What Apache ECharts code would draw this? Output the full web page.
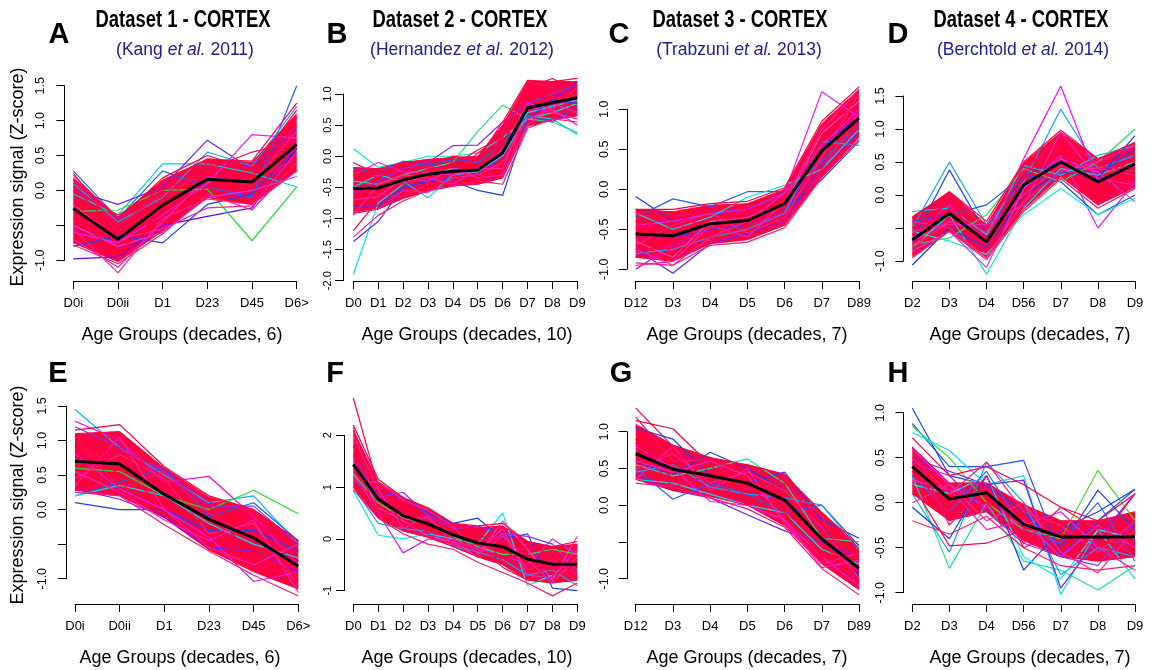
<!DOCTYPE html>
<html>
<head>
<meta charset="utf-8">
<script src="https://cdn.jsdelivr.net/npm/echarts@6/dist/echarts.min.js"></script>
<style>
  html, body { margin: 0; padding: 0; background: #fff; }
  #main { width: 1154px; height: 670px; }
</style>
</head>
<body>
<div id="main"></div>
<script type="text/javascript">
// age groups
var cats6 = ['D0i', 'D0ii', 'D1', 'D23', 'D45', 'D6>'];
var cats10 = ['D0', 'D1', 'D2', 'D3', 'D4', 'D5', 'D6', 'D7', 'D8', 'D9'];
var cats7a = ['D12', 'D3', 'D4', 'D5', 'D6', 'D7', 'D89'];
var cats7b = ['D2', 'D3', 'D4', 'D56', 'D7', 'D8', 'D9'];

// A - dataset 1, up
var aMean = [-0.26, -0.70, -0.21, 0.16, 0.12, 0.66];
var aLo = [-0.75, -1.02, -0.58, -0.10, -0.20, 0.28];
var aHi = [0.18, -0.38, 0.15, 0.45, 0.40, 1.10];
var aRed = [
  [0.22, -0.42, 0.18, 0.50, 0.30, 1.15],
  [-0.78, -1.05, -0.62, -0.05, -0.28, 0.40],
  [0.05, -0.60, 0.10, 0.45, 0.42, 1.25],
  [-0.55, -1.18, -0.40, -0.12, -0.20, 0.28],
  [-0.40, -0.88, -0.30, 0.05, 0.20, 1.05],
  [0.15, -0.50, -0.05, 0.25, 0.15, 0.45],
  [-0.20, -0.70, -0.55, -0.25, -0.22, 0.55],
  [0.00, -0.35, 0.00, 0.30, 0.55, 0.70],
  [-0.70, -1.10, -0.45, 0.20, 0.10, 0.85],
  [0.25, -0.60, -0.20, 0.40, 0.05, 0.95]
];
var aOther = [
  [-0.98, -0.95, -0.50, -0.37, -0.25, 0.60],
  [0.28, -0.40, 0.28, 0.05, -0.10, 1.50],
  [-0.05, -0.35, 0.38, 0.38, 0.25, 0.05],
  [-0.30, -0.28, 0.00, 0.02, -0.72, 0.05],
  [0.00, -0.20, 0.05, 0.72, 0.30, 0.90],
  [-0.80, -0.65, -0.75, -0.20, -0.05, 0.60],
  [-0.60, -0.75, -0.35, 0.10, 0.80, 0.75],
  [-0.50, -0.80, -0.60, -0.10, 0.00, 0.20],
  [0.10, -0.45, -0.10, 0.55, 0.35, 1.20]
];

// B - dataset 2, up
var bMean = [-0.52, -0.51, -0.38, -0.29, -0.24, -0.22, 0.06, 0.78, 0.86, 0.94];
var bLo = [-0.92, -0.85, -0.68, -0.56, -0.48, -0.45, -0.35, 0.48, 0.58, 0.65];
var bHi = [-0.18, -0.20, -0.10, -0.05, -0.02, 0.00, 0.50, 1.20, 1.20, 1.20];
var bRed = [
  [-0.18, -0.35, -0.10, -0.12, 0.00, -0.05, 0.55, 1.22, 1.20, 1.25],
  [-1.30, -0.95, -0.72, -0.55, -0.48, -0.40, -0.45, 0.45, 0.60, 0.55],
  [-1.20, -0.70, -0.40, -0.20, -0.15, 0.10, 0.30, 1.10, 1.25, 1.05],
  [-0.90, -0.85, -0.55, -0.58, -0.35, -0.30, -0.10, 0.60, 0.75, 1.10],
  [-0.30, -0.20, -0.45, -0.30, -0.10, -0.15, 0.20, 0.95, 0.95, 0.75],
  [-0.50, -0.60, -0.65, -0.45, -0.40, -0.45, 0.40, 1.20, 1.10, 0.95],
  [-0.95, -0.45, -0.30, -0.35, -0.45, -0.20, -0.20, 0.80, 0.70, 0.60],
  [-0.10, -0.30, -0.25, -0.15, -0.30, 0.05, 0.35, 1.00, 1.15, 1.15],
  [-0.70, -0.65, -0.35, -0.40, -0.20, -0.35, -0.30, 0.50, 0.85, 0.70]
];
var bOther = [
  [-1.90, -0.75, -0.45, -0.30, -0.20, -0.25, 0.10, 0.70, 0.80, 0.90],
  [-1.37, -1.05, -0.50, -0.40, -0.35, -0.30, 0.00, 0.75, 0.90, 1.20],
  [0.12, -0.18, -0.10, 0.00, 0.00, 0.05, 0.30, 0.60, 0.70, 0.85],
  [-0.40, -0.45, -0.30, -0.20, -0.10, 0.40, 0.82, 0.60, 0.55, 0.38],
  [-0.60, -0.40, -0.20, -0.10, 0.17, 0.18, 0.55, 0.85, 1.00, 1.15],
  [-0.80, -0.80, -0.50, -0.40, -0.40, -0.55, -0.63, 0.60, 0.90, 0.85],
  [-0.50, -0.30, -0.40, -0.67, -0.30, -0.25, 0.00, 0.65, 0.60, 0.35],
  [-0.30, -0.10, -0.25, -0.25, -0.30, -0.20, 0.10, 0.85, 0.75, 0.50],
  [-0.20, -0.25, -0.08, -0.15, -0.05, -0.10, 0.20, 0.65, 0.55, 0.80]
];

// C - dataset 3, up
var cMean = [-0.56, -0.58, -0.43, -0.39, -0.18, 0.48, 0.89];
var cLo = [-0.85, -0.90, -0.68, -0.63, -0.45, 0.15, 0.65];
var cHi = [-0.25, -0.28, -0.20, -0.18, 0.00, 0.82, 1.25];
var cRed = [
  [-0.25, -0.25, -0.18, -0.15, 0.02, 0.85, 1.28],
  [-0.92, -0.95, -0.70, -0.66, -0.48, 0.15, 0.62],
  [-0.40, -0.80, -0.55, -0.30, -0.10, 0.80, 1.05],
  [-0.70, -0.45, -0.30, -0.55, -0.35, 0.40, 1.20],
  [-0.85, -0.60, -0.60, -0.45, -0.25, 0.60, 0.75],
  [-0.30, -0.40, -0.65, -0.20, -0.45, 0.25, 0.95],
  [-0.95, -0.90, -0.45, -0.60, -0.15, 0.75, 1.25],
  [-0.50, -0.30, -0.50, -0.25, -0.40, 0.20, 0.70],
  [-0.75, -0.95, -0.60, -0.40, -0.05, 0.55, 1.00]
];
var cOther = [
  [-0.09, -0.40, -0.30, -0.25, -0.05, 0.55, 0.90],
  [-0.35, -0.12, -0.22, -0.03, -0.03, 0.35, 0.80],
  [-0.45, -0.40, -0.30, -0.25, -0.05, 1.22, 0.90],
  [-1.00, -0.70, -0.50, -0.45, -0.30, 0.50, 0.95],
  [-0.75, -1.05, -0.68, -0.55, -0.40, 0.30, 0.70],
  [-0.60, -0.60, -0.50, -0.45, -0.25, 0.12, 0.60],
  [-0.30, -0.50, -0.35, -0.10, 0.05, 0.25, 0.75],
  [-0.80, -0.75, -0.60, -0.50, -0.30, 0.60, 0.55],
  [-0.65, -0.85, -0.40, -0.35, -0.20, 0.70, 1.10]
];

// D - dataset 4, up
var dMean = [-0.68, -0.28, -0.71, 0.15, 0.50, 0.20, 0.47];
var dLo = [-0.93, -0.55, -0.95, -0.22, 0.28, -0.15, 0.12];
var dHi = [-0.33, 0.05, -0.45, 0.48, 0.95, 0.55, 0.80];
var dRed = [
  [-0.35, 0.05, -0.40, 0.50, 0.98, 0.55, 0.70],
  [-0.95, -0.55, -0.98, -0.25, 0.25, -0.20, 0.10],
  [-0.50, -0.10, -0.85, 0.30, 0.80, 0.10, 0.60],
  [-0.80, -0.40, -0.55, 0.00, 0.45, 0.40, 0.30],
  [-0.60, -0.20, -0.65, 0.25, 0.65, 0.00, 0.50],
  [-0.90, 0.00, -0.50, 0.35, 0.90, 0.45, 0.35],
  [-0.40, -0.50, -0.95, -0.10, 0.35, 0.50, 0.75],
  [-0.75, -0.05, -0.75, 0.45, 0.70, -0.15, 0.25],
  [-0.55, -0.45, -0.45, -0.15, 0.95, 0.25, 0.15]
];
var dOther = [
  [-0.50, 0.50, -0.45, 0.20, 1.30, 0.40, 0.60],
  [-0.70, 0.38, -0.60, 0.30, 0.50, 0.30, 0.70],
  [-0.60, -0.15, -0.70, 0.55, 1.65, 0.20, 0.45],
  [-0.70, -0.40, -0.60, 0.10, 0.60, -0.50, 0.20],
  [-0.80, -0.30, -1.20, -0.20, 0.40, 0.30, 0.50],
  [-0.40, -0.30, -0.15, 0.30, 0.20, -0.30, 0.00],
  [-0.25, -0.20, -0.60, 0.45, 0.30, 0.60, 0.75],
  [-1.06, -0.50, -0.80, 0.00, 0.35, 0.25, 0.90],
  [-0.75, -0.65, -0.30, 0.40, 0.20, 0.50, 1.00],
  [-0.55, -0.70, -0.90, -0.30, 0.10, -0.30, -0.05],
  [-0.85, -0.55, -1.10, 0.10, 0.55, 0.35, -0.10]
];

// E - dataset 1, down
var eMean = [0.70, 0.66, 0.22, -0.14, -0.41, -0.82];
var eLo = [0.28, 0.20, -0.12, -0.58, -0.90, -1.15];
var eHi = [1.10, 1.13, 0.60, 0.18, 0.00, -0.45];
var eRed = [
  [1.15, 1.23, 0.62, 0.20, 0.00, -0.45],
  [0.25, 0.20, -0.22, -0.60, -0.95, -1.25],
  [0.90, 1.10, 0.30, 0.05, -0.70, -0.60],
  [0.45, 0.80, 0.45, -0.35, -0.20, -1.10],
  [1.00, 0.50, 0.10, -0.25, -0.60, -0.95],
  [1.05, 0.30, 0.55, -0.05, -0.40, -1.00],
  [0.35, 1.05, 0.00, -0.55, -0.80, -0.50],
  [0.75, 0.85, 0.60, 0.15, -0.85, -0.75],
  [0.55, 0.25, -0.15, -0.45, -0.15, -1.20]
];
var eOther = [
  [1.45, 0.90, 0.50, 0.10, 0.20, -0.50],
  [0.10, 0.00, 0.00, -0.30, -0.30, -0.60],
  [0.20, 0.40, 0.60, -0.10, 0.10, -0.45],
  [1.28, 1.00, 0.40, 0.48, -0.10, -0.80],
  [0.60, 0.55, 0.20, 0.00, 0.28, -0.06],
  [0.80, 0.30, 0.00, -0.40, -1.04, -0.90],
  [0.30, 0.15, -0.10, -0.55, -0.60, -0.90],
  [0.20, 0.35, 0.20, -0.20, -0.50, -0.70],
  [1.20, 0.90, 0.55, 0.05, 0.05, -0.50]
];

// F - dataset 2, down
var fMean = [1.44, 0.77, 0.45, 0.29, 0.08, -0.08, -0.15, -0.39, -0.49, -0.49];
var fLo = [1.00, 0.40, 0.15, 0.03, -0.15, -0.35, -0.50, -0.80, -0.85, -0.80];
var fHi = [2.10, 1.10, 0.80, 0.58, 0.30, 0.22, 0.25, -0.05, -0.15, -0.10];
var fRed = [
  [2.20, 1.15, 0.80, 0.60, 0.30, 0.25, 0.30, -0.05, -0.15, -0.05],
  [0.95, 0.40, 0.10, -0.10, -0.20, -0.45, -0.65, -0.85, -1.10, -0.85],
  [2.72, 1.00, 0.50, 0.30, 0.10, 0.00, -0.20, -0.50, -0.60, -0.40],
  [1.20, 0.60, 0.40, 0.40, 0.00, -0.20, 0.10, -0.60, -0.40, -0.70],
  [1.80, 0.90, 0.30, 0.15, 0.20, -0.35, -0.35, -0.30, -0.70, -0.55],
  [2.15, 0.55, 0.20, 0.05, -0.10, -0.10, -0.55, -0.80, -0.50, -0.80],
  [1.10, 1.10, 0.75, 0.55, 0.25, -0.30, 0.05, -0.40, -0.85, -0.35],
  [1.65, 0.45, 0.60, 0.10, 0.25, 0.20, -0.45, -0.15, -0.30, -0.75],
  [2.00, 0.95, 0.20, 0.45, -0.10, -0.25, 0.20, -0.70, -0.75, -0.20]
];
var fOther = [
  [0.93, 0.07, 0.00, 0.10, 0.00, -0.10, 0.50, -0.90, -0.70, -0.55],
  [1.30, 0.50, -0.27, 0.00, -0.05, -0.20, -0.30, -0.50, 0.00, -0.30],
  [1.10, 0.90, 0.80, 0.50, 0.30, 0.40, 0.00, 0.10, -0.95, -1.00],
  [1.60, 0.80, 0.90, 0.45, 0.20, 0.25, 0.10, 0.05, -0.10, -0.65],
  [1.00, 0.30, 0.20, 0.15, -0.15, -0.25, -0.40, -0.70, -0.60, -0.90],
  [1.50, 0.60, 0.35, 0.05, -0.05, -0.35, 0.35, -0.20, -0.80, 0.05],
  [1.25, 0.70, 0.40, 0.30, 0.05, -0.15, -0.30, -0.30, -0.20, -0.30]
];

// G - dataset 3, down
var gMean = [0.70, 0.49, 0.40, 0.30, 0.07, -0.46, -0.86];
var gLo = [0.35, 0.20, 0.12, 0.00, -0.28, -0.80, -1.15];
var gHi = [1.10, 0.82, 0.65, 0.55, 0.42, -0.10, -0.58];
var gRed = [
  [1.15, 1.04, 0.55, 0.55, 0.42, -0.10, -0.55],
  [0.30, 0.25, 0.10, -0.05, -0.30, -0.86, -1.22],
  [1.32, 0.80, 0.45, 0.35, 0.00, -0.55, -0.90],
  [0.50, 0.70, 0.30, 0.45, 0.20, -0.30, -1.00],
  [0.90, 0.35, 0.55, 0.10, -0.10, -0.70, -0.70],
  [1.20, 0.60, 0.62, 0.20, 0.30, -0.15, -1.15],
  [0.35, 0.80, 0.20, 0.50, -0.25, -0.80, -0.65],
  [0.85, 0.25, 0.40, 0.00, 0.40, -0.40, -1.05],
  [0.60, 0.45, 0.60, 0.40, -0.20, -0.85, -0.75]
];
var gOther = [
  [1.05, 0.90, 0.40, 0.30, 0.45, -0.20, -0.45],
  [0.50, 0.08, 0.30, 0.15, -0.10, 0.00, -0.55],
  [0.60, 0.40, 0.72, 0.50, 0.20, -0.30, -0.95],
  [0.55, 0.40, 0.50, 0.63, 0.30, -0.45, -0.50],
  [0.40, 0.20, 0.10, -0.13, -0.35, -0.50, -0.70],
  [0.35, 0.30, 0.15, 0.00, -0.10, -0.60, -0.80],
  [0.80, 0.50, 0.05, 0.00, -0.20, -0.70, -1.10],
  [0.45, 0.55, 0.25, 0.15, 0.10, 0.00, -0.60]
];

// H - dataset 4, down
var hMean = [0.40, 0.04, 0.11, -0.24, -0.38, -0.38, -0.38];
var hLo = [0.10, -0.20, -0.10, -0.42, -0.60, -0.65, -0.60];
var hHi = [0.62, 0.22, 0.22, -0.02, -0.20, -0.20, -0.10];
var hRed = [
  [0.72, 0.30, 0.40, 0.20, -0.05, -0.20, 0.10],
  [-0.20, -0.35, -0.15, -0.50, -0.70, -0.75, -0.70],
  [0.20, -0.48, -0.45, -0.30, -0.50, -0.60, -0.40],
  [0.50, 0.10, 0.45, -0.10, -0.25, -0.55, -0.20],
  [0.35, -0.10, 0.00, -0.40, -0.35, -0.40, -0.55],
  [0.62, -0.25, 0.20, -0.45, -0.05, -0.30, -0.60],
  [0.00, 0.20, -0.20, 0.00, -0.55, -0.78, -0.30],
  [0.45, -0.20, 0.30, -0.50, -0.30, -0.45, 0.10],
  [0.25, 0.15, -0.30, -0.20, -0.60, -0.25, -0.50]
];
var hOther = [
  [1.05, 0.30, 0.20, -0.10, -0.50, 0.14, -0.30],
  [0.88, 0.40, 0.40, 0.47, -0.60, -0.20, 0.15],
  [0.85, 0.50, 0.00, -0.30, -0.40, 0.36, -0.20],
  [0.78, 0.58, 0.20, 0.30, -1.02, -0.30, -0.85],
  [0.30, -0.73, 0.00, -0.65, -0.75, -0.97, -0.70],
  [0.10, -0.55, 0.45, 0.00, -0.80, -0.50, -0.60],
  [0.50, 0.35, 0.20, 0.25, -0.95, -0.40, 0.10],
  [-0.05, -0.40, 0.30, -0.75, -0.30, -0.10, 0.15],
  [0.60, 0.20, -0.05, -0.25, -0.10, -0.50, -0.75],
  [0.20, 0.10, 0.30, -0.60, -0.85, -0.30, -0.40],
  [0.45, 0.30, -0.10, -0.45, -0.60, -0.70, -0.20],
  [0.30, -0.10, 0.35, -0.30, -0.45, 0.00, -0.65]
];

// line colours (rainbow-ish, per panel)
var aColors = ['#6a00ff', '#2060ff', '#00d0e0', '#20e030', '#7020ff', '#2040ff', '#e020ff', '#c040ff', '#10a0ff'];
var bColors = ['#00e0f0', '#6020ff', '#00f0d0', '#20e080', '#8030ff', '#2040ff', '#00c8ff', '#ff20e0', '#1060ff'];
var cColors = ['#1040ff', '#2060ff', '#e020ff', '#d000ff', '#7020ff', '#2040ff', '#00e0f0', '#10a0ff', '#ff40c0'];
var dColors = ['#10a0ff', '#2040ff', '#ff00ff', '#e020f0', '#00e0e0', '#2050ff', '#00c8f0', '#1040ff', '#20e060', '#10f0d0', '#c040ff'];
var eColors = ['#10b0ff', '#2040ff', '#1060ff', '#ff00e0', '#20e020', '#d020ff', '#7020ff', '#00e0f0', '#8030ff'];
var fColors = ['#00e8f0', '#d020ff', '#2040ff', '#8030ff', '#10a0ff', '#ff30e0', '#30e040'];
var gColors = ['#2040ff', '#2060ff', '#1040ff', '#20e090', '#7020ff', '#00e0f0', '#e020ff', '#10a0ff'];
var hColors = ['#2040ff', '#2050ff', '#40e020', '#00e0ff', '#20e090', '#10a0ff', '#7020ff', '#1040ff', '#e020ff', '#10f0f0', '#9030ff', '#3060ff'];
var redColors = ['#ff0040', '#ff1a70', '#ff0050', '#ff2080', '#ff0030', '#ff1060', '#ff20a0', '#ff0060', '#f020c0', '#ff1050'];

// panel geometry (px)
var panels = [
  {cats: cats6, mean: aMean, lo: aLo, hi: aHi, red: aRed, other: aOther, col: aColors, x0: 73.3, x1: 296.7, yT: 85.7, yB: 260.3, yAx: 64.4, xAx: 281, min: -1, max: 1.5, step: 0.5, dec: 1, hide: true, fs: 12.5, mg: 17},
  {cats: cats10, mean: bMean, lo: bLo, hi: bHi, red: bRed, other: bOther, col: bColors, x0: 353.3, x1: 577.3, yT: 94, yB: 280.7, yAx: 343, xAx: 281, min: -2, max: 1, step: 0.5, dec: 1, hide: false, fs: 11, mg: 10},
  {cats: cats7a, mean: cMean, lo: cLo, hi: cHi, red: cRed, other: cOther, col: cColors, x0: 635.7, x1: 859, yT: 109.3, yB: 269.3, yAx: 626.8, xAx: 281, min: -1, max: 1, step: 0.5, dec: 1, hide: false, fs: 12.5, mg: 16},
  {cats: cats7b, mean: dMean, lo: dLo, hi: dHi, red: dRed, other: dOther, col: dColors, x0: 912.3, x1: 1135, yT: 96, yB: 261, yAx: 903.4, xAx: 281, min: -1, max: 1.5, step: 0.5, dec: 1, hide: true, fs: 12.5, mg: 16},
  {cats: cats6, mean: eMean, lo: eLo, hi: eHi, red: eRed, other: eOther, col: eColors, x0: 75, x1: 298.3, yT: 406, yB: 578.7, yAx: 66, xAx: 604, min: -1, max: 1.5, step: 0.5, dec: 1, hide: true, fs: 12.5, mg: 17},
  {cats: cats10, mean: fMean, lo: fLo, hi: fHi, red: fRed, other: fOther, col: fColors, x0: 353.3, x1: 577.3, yT: 435.3, yB: 590.7, yAx: 344, xAx: 604, min: -1, max: 2, step: 1, dec: 0, hide: false, fs: 11, mg: 11},
  {cats: cats7a, mean: gMean, lo: gLo, hi: gHi, red: gRed, other: gOther, col: gColors, x0: 635.7, x1: 859, yT: 431.7, yB: 578.7, yAx: 626.8, xAx: 604, min: -1, max: 1, step: 0.5, dec: 1, hide: true, fs: 12.5, mg: 16},
  {cats: cats7b, mean: hMean, lo: hLo, hi: hHi, red: hRed, other: hOther, col: hColors, x0: 912.3, x1: 1135, yT: 412.7, yB: 592.7, yAx: 903.4, xAx: 604, min: -1, max: 1, step: 0.5, dec: 1, hide: false, fs: 12.5, mg: 16}
];

var FONT = '"Liberation Sans", Arial, sans-serif';
var grids = [], xAxes = [], yAxes = [], series = [];

panels.forEach(function (p, i) {
  grids.push({left: p.x0, top: p.yT, width: p.x1 - p.x0, height: p.yB - p.yT});
  xAxes.push({
    gridIndex: i, type: 'category', data: p.cats, boundaryGap: false,
    offset: p.xAx - p.yB,
    axisLine: {onZero: false, lineStyle: {color: '#000', width: 1}},
    axisTick: {interval: 0, length: 8, lineStyle: {color: '#000'}},
    axisLabel: {interval: 0, margin: 16, color: '#000', fontSize: 13, fontFamily: FONT},
    splitLine: {show: false}
  });
  yAxes.push({
    gridIndex: i, type: 'value', min: p.min, max: p.max, interval: p.step,
    offset: p.x0 - p.yAx,
    axisLine: {show: true, lineStyle: {color: '#000', width: 1}},
    axisTick: {show: true, length: 8, lineStyle: {color: '#000'}},
    axisLabel: {
      rotate: 90, margin: p.mg, color: '#000', fontSize: p.fs, fontFamily: FONT,
      formatter: function (v) {
        if (p.hide && Math.abs(v + 0.5) < 1e-9) return '';
        return v.toFixed(p.dec);
      }
    },
    splitLine: {show: false}
  });
  var base = {type: 'line', xAxisIndex: i, yAxisIndex: i, symbol: 'none', clip: false, silent: true};
  p.other.forEach(function (d, k) {
    series.push(Object.assign({}, base, {data: d, lineStyle: {width: 1.2, color: p.col[k]}}));
  });
  // dense core of red gene profiles, drawn as a band between lo and hi
  series.push(Object.assign({}, base, {data: p.lo, stack: 'band' + i, stackStrategy: 'all', lineStyle: {width: 1, color: '#ff0040'}}));
  series.push(Object.assign({}, base, {
    data: p.hi.map(function (v, k) { return v - p.lo[k]; }),
    stack: 'band' + i, stackStrategy: 'all',
    lineStyle: {width: 1, color: '#ff0040'},
    areaStyle: {color: '#ff0040', opacity: 1}
  }));
  p.red.forEach(function (d, k) {
    series.push(Object.assign({}, base, {data: d, lineStyle: {width: 1.2, color: redColors[k % redColors.length]}}));
  });
  series.push(Object.assign({}, base, {data: p.mean, lineStyle: {width: 3, color: '#000'}, z: 5}));
});

function txt(x, y, s, font, opt) {
  var o = {type: 'text', x: x, y: y, silent: true, style: {text: s, font: font, fill: '#000', textAlign: 'center', textVerticalAlign: 'middle'}};
  if (opt) Object.assign(o, opt);
  return o;
}
function cite(x, y, name, year) {
  var st = {fontSize: 17.5, fontFamily: FONT, color: '#20209a', fill: '#20209a'};
  return {
    type: 'text', x: x, y: y, silent: true,
    style: {
      text: '{n|(' + name + ' }{i|et al.}{n| ' + year + ')}',
      textAlign: 'center', textVerticalAlign: 'middle', fill: '#20209a',
      rich: {n: st, i: Object.assign({fontStyle: 'italic'}, st)}
    }
  };
}

var titleFont = 'bold 23px ' + FONT;
var letterFont = 'bold 29px ' + FONT;
var labFont = '18px ' + FONT;
var graphics = [
  txt(183, 21, 'Dataset 1 - CORTEX', titleFont, {scaleX: 0.8}),
  txt(460, 21, 'Dataset 2 - CORTEX', titleFont, {scaleX: 0.8}),
  txt(740, 21, 'Dataset 3 - CORTEX', titleFont, {scaleX: 0.8}),
  txt(1021, 21, 'Dataset 4 - CORTEX', titleFont, {scaleX: 0.8}),
  cite(185, 50, 'Kang', '2011'),
  cite(462, 50, 'Hernandez', '2012'),
  cite(739, 50, 'Trabzuni', '2013'),
  cite(1023, 50, 'Berchtold', '2014'),
  txt(59, 35, 'A', letterFont), txt(337, 35, 'B', letterFont),
  txt(619, 35, 'C', letterFont), txt(898, 35, 'D', letterFont),
  txt(58, 374, 'E', letterFont), txt(335, 374, 'F', letterFont),
  txt(621, 374, 'G', letterFont), txt(898, 374, 'H', letterFont),
  txt(182, 335, 'Age Groups (decades, 6)', labFont),
  txt(467, 335, 'Age Groups (decades, 10)', labFont),
  txt(747, 335, 'Age Groups (decades, 7)', labFont),
  txt(1030, 335, 'Age Groups (decades, 7)', labFont),
  txt(180, 658, 'Age Groups (decades, 6)', labFont),
  txt(467, 658, 'Age Groups (decades, 10)', labFont),
  txt(747, 658, 'Age Groups (decades, 7)', labFont),
  txt(1030, 658, 'Age Groups (decades, 7)', labFont),
  txt(18, 177, 'Expression signal (Z-score)', labFont, {rotation: Math.PI / 2}),
  txt(18, 495, 'Expression signal (Z-score)', labFont, {rotation: Math.PI / 2})
];

var chart = echarts.init(document.getElementById('main'));
chart.setOption({
  animation: false,
  backgroundColor: '#fff',
  grid: grids,
  xAxis: xAxes,
  yAxis: yAxes,
  series: series,
  graphic: graphics
});
</script>
</body>
</html>
